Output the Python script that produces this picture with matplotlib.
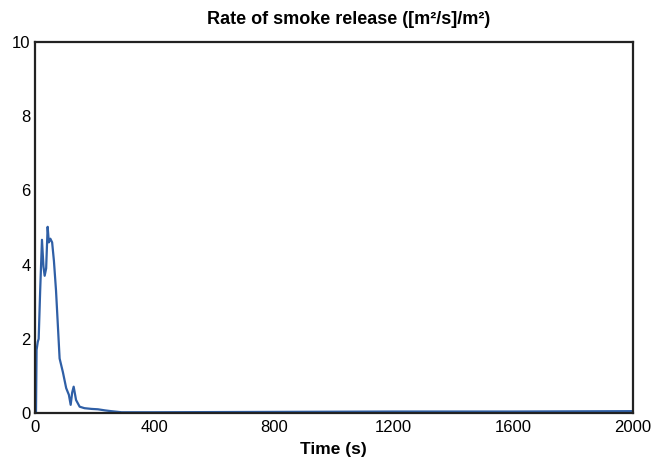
import matplotlib
matplotlib.use("Agg")
import matplotlib.pyplot as plt

time_s = [0, 4, 6, 10, 13, 18, 24, 29, 33, 38, 43, 47, 52, 58, 64, 71, 83, 94, 105, 114, 120, 125, 130, 138, 150, 166, 190, 211, 235, 255, 290, 400, 800, 1200, 1600, 2000]
smoke_rate = [0, 0, 1.7, 1.92, 2.0, 3.3, 4.67, 3.95, 3.7, 3.9, 5.02, 4.6, 4.7, 4.6, 4.1, 3.3, 1.47, 1.1, 0.67, 0.49, 0.22, 0.55, 0.71, 0.35, 0.17, 0.13, 0.11, 0.1, 0.07, 0.05, 0.02, 0.02, 0.03, 0.04, 0.04, 0.05]

x_ticks = [0, 400, 800, 1200, 1600, 2000]
y_ticks = [0, 2, 4, 6, 8, 10]

plt.rcParams['font.family'] = ['Liberation Sans', 'DejaVu Sans']

fig = plt.figure(figsize=(6.69, 4.63), dpi=100)
ax = fig.add_axes([0.052, 0.108, 0.894, 0.801])
ax.plot(time_s, smoke_rate, color='#2f5fa6', linewidth=1.6)
ax.set_xlim(0, 2000)
ax.set_ylim(0, 10)
ax.set_xticks(x_ticks)
ax.set_yticks(y_ticks)
ax.tick_params(length=0, labelsize=12, pad=5)
ax.tick_params(axis='y', pad=3)
for s in ax.spines.values():
    s.set_linewidth(1.6)
    s.set_color('#222222')
ax.set_title('Rate of smoke release ([m²/s]/m²)', fontsize=13, fontweight='bold', pad=13, x=0.525)
ax.set_xlabel('Time (s)', fontsize=12.5, fontweight='bold', labelpad=5)
fig.savefig('out.png', dpi=100)
